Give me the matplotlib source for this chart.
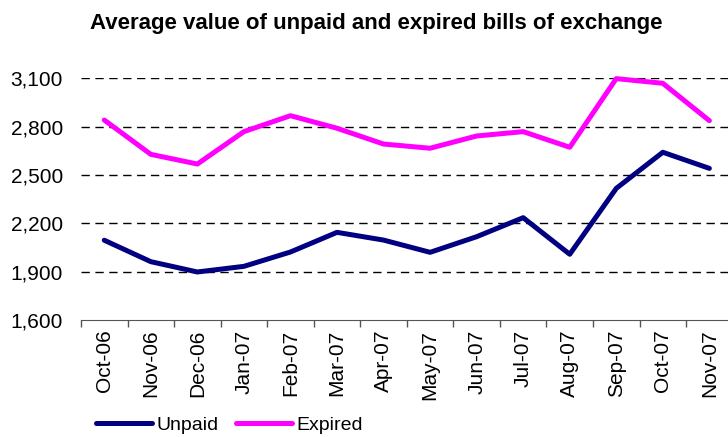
import matplotlib.pyplot as plt
from matplotlib.ticker import FixedLocator, FuncFormatter

months = ['Oct-06', 'Nov-06', 'Dec-06', 'Jan-07', 'Feb-07', 'Mar-07', 'Apr-07',
          'May-07', 'Jun-07', 'Jul-07', 'Aug-07', 'Sep-07', 'Oct-07', 'Nov-07']
unpaid = [2095, 1962, 1898, 1933, 2022, 2144, 2096, 2020, 2117, 2235, 2008, 2417, 2641, 2541]
expired = [2841, 2628, 2568, 2769, 2868, 2790, 2692, 2666, 2742, 2769, 2672, 3098, 3069, 2837]
y_ticks = [1600, 1900, 2200, 2500, 2800, 3100]

plt.rcParams['font.family'] = ['Liberation Sans', 'DejaVu Sans']

fig = plt.figure(figsize=(7.28, 4.37), dpi=100)
ax = fig.add_axes([81 / 728, 1 - 320 / 437, 1 - 81 / 728, (320 - 78.3) / 437])

x = list(range(len(months)))
ax.plot(x, unpaid, color='#000080', lw=3.6, label='Unpaid', clip_on=False, solid_capstyle='round')
ax.plot(x, expired, color='#FF00FF', lw=3.6, label='Expired', clip_on=False, solid_capstyle='round')

ax.set_ylim(1600, 3100)
ax.set_xlim(-0.5, 13.4)
ax.set_yticks(y_ticks)
ax.yaxis.set_major_formatter(FuncFormatter(lambda v, p: f'{int(v):,}'))
ax.tick_params(axis='y', length=0, labelsize=15, pad=13)
for v in y_ticks[1:]:
    ax.axhline(v, color='black', lw=1, dashes=(6, 4), zorder=0)

ax.set_xticks(x)
ax.set_xticklabels(months, rotation=90, fontsize=15)
ax.tick_params(axis='x', which='major', length=0, pad=7)
ax.xaxis.set_minor_locator(FixedLocator([i - 0.5 for i in range(len(months) + 1)]))
ax.tick_params(axis='x', which='minor', length=5, color='#555555', width=1)

for s in ['left', 'right', 'top']:
    ax.spines[s].set_visible(False)
ax.spines['bottom'].set_color('#555555')

fig.text(376 / 728, 1 - 23 / 437, 'Average value of unpaid and expired bills of exchange',
         ha='center', va='center', fontsize=16, fontweight='bold')

fig.legend(loc='center left', bbox_to_anchor=(88 / 728, 1 - 425 / 437), ncol=2, frameon=False,
           fontsize=14, handlelength=2.9, handletextpad=0.2, columnspacing=0.9, borderaxespad=0)

fig.savefig('out.png', dpi=100)
